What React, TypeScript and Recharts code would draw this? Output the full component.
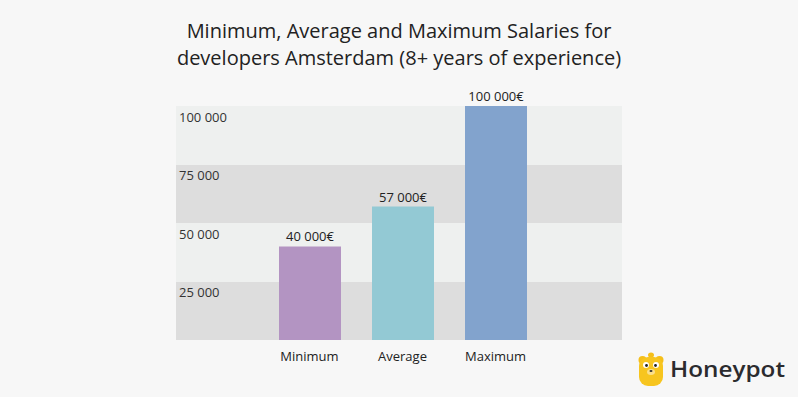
import { Bar, BarChart, CartesianGrid, Cell, LabelList, XAxis, YAxis } from 'recharts'

const categories = ['Minimum', 'Average', 'Maximum']
const salaries = [40000, 57000, 100000]
const barColors = ['#b394c2', '#93c9d4', '#82a3cd']
const yTicks = [0, 25000, 50000, 75000, 100000]

const fmt = (v: number) => String(v).replace(/\B(?=(\d{3})+(?!\d))/g, ' ')

const data = categories.map((name, i) => ({ name, value: salaries[i] }))

const FONT = '"Open Sans", sans-serif'

function YTick(props: any) {
  const { y, payload } = props
  if (payload.value === 0) return null
  return (
    <text x={179} y={y + 15.5} fontSize={13} fill="#333" fontFamily={FONT} textAnchor="start">
      {fmt(payload.value)}
    </text>
  )
}

function XTick(props: any) {
  const { x, y, payload } = props
  return (
    <text x={x} y={y + 21} fontSize={13} fill="#222" fontFamily={FONT} textAnchor="middle">
      {payload.value}
    </text>
  )
}

function Logo() {
  return (
    <svg width={798} height={397} style={{ position: 'absolute', left: 0, top: 0, pointerEvents: 'none' }}>
      <ellipse cx={651} cy={355} rx={3} ry={2.5} fill="#f5bf1a" />
      <circle cx={642.5} cy={360} r={4} fill="#f5bf1a" />
      <circle cx={659.5} cy={360} r={4} fill="#f5bf1a" />
      <rect x={639} y={357} width={24} height={29} rx={9} fill="#f7c51f" />
      <circle cx={646} cy={365} r={3} fill="#fff" />
      <circle cx={656} cy={365} r={3} fill="#fff" />
      <circle cx={646.5} cy={365.5} r={1.4} fill="#222" />
      <circle cx={655.5} cy={365.5} r={1.4} fill="#222" />
      <ellipse cx={651} cy={372} rx={4} ry={3} fill="#fbe08a" />
      <ellipse cx={651} cy={371} rx={1.5} ry={1} fill="#333" />
      <text x={670} y={377} fontSize={21} fontWeight={600} fill="#2b2b2e" fontFamily={FONT} textLength={115} lengthAdjust="spacingAndGlyphs">
        Honeypot
      </text>
    </svg>
  )
}

export default function App() {
  return (
    <div style={{ position: 'absolute', left: 0, top: 0, width: 798, height: 397, background: '#f7f7f7', fontFamily: FONT }}>
      <div style={{ position: 'absolute', left: 0, top: 17, width: 798, textAlign: 'center', fontSize: 20, lineHeight: '27px', color: '#222' }}>
        Minimum, Average and Maximum Salaries for
        <br />
        developers Amsterdam (8+ years of experience)
      </div>
      <BarChart width={798} height={397} data={data} margin={{ top: 106, right: 176, left: 176, bottom: 27 }}>
        <CartesianGrid vertical={false} stroke="none" horizontalFill={['#eef0ef', '#dddddd']} fillOpacity={1} />
        <XAxis
          dataKey="name"
          axisLine={false}
          tickLine={false}
          tickSize={0}
          tickMargin={0}
          height={30}
          padding={{ left: 87, right: 80 }}
          tick={<XTick />}
        />
        <YAxis
          mirror
          domain={[0, 100000]}
          ticks={yTicks}
          axisLine={false}
          tickLine={false}
          tick={<YTick />}
        />
        <Bar dataKey="value" barSize={62} isAnimationActive={false}>
          {data.map((d, i) => (
            <Cell key={d.name} fill={barColors[i]} />
          ))}
          <LabelList
            dataKey="value"
            position="top"
            offset={5}
            fontSize={13}
            fill="#222"
            fontFamily={FONT}
            formatter={(v: any) => `${fmt(Number(v))}€`}
          />
        </Bar>
      </BarChart>
      <Logo />
    </div>
  )
}
